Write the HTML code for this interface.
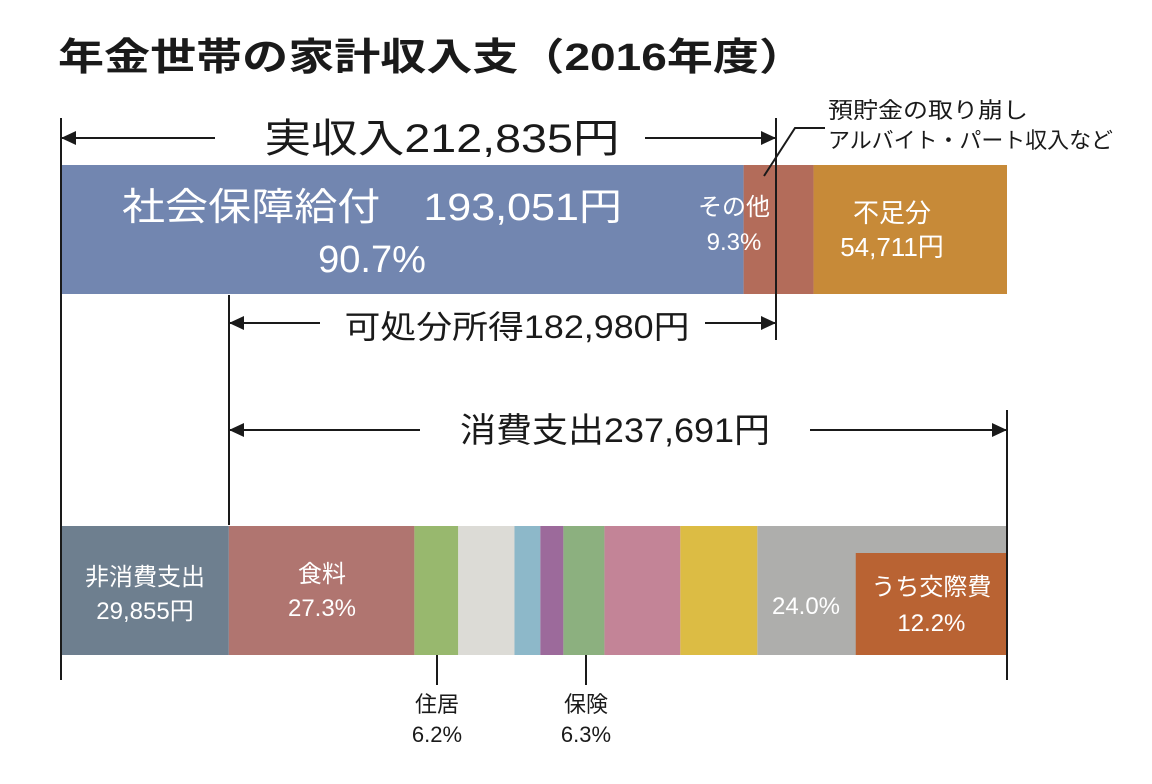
<!DOCTYPE html>
<html><head><meta charset="utf-8"><style>
body{margin:0;background:#fff;}
svg{display:block;font-family:"Liberation Sans","Noto Sans CJK JP",sans-serif;}
</style></head><body>
<svg width="1152" height="784" viewBox="0 0 1152 784">
<text x="58" y="70" font-size="38" font-weight="bold" fill="#1a1a1a" textLength="747" lengthAdjust="spacingAndGlyphs">年金世帯の家計収入支（2016年度）</text>
<g id="top"></g>
<g id="bottom"></g>
<g stroke="#1a1a1a" stroke-width="2">
<line x1="61" y1="118" x2="61" y2="680"/><line x1="776" y1="118" x2="776" y2="340"/>
<line x1="229" y1="295" x2="229" y2="525"/><line x1="1007" y1="410" x2="1007" y2="680"/>
<line x1="61" y1="138" x2="215" y2="138"/><line x1="645" y1="138" x2="776" y2="138"/>
<line x1="229" y1="323" x2="320" y2="323"/><line x1="705" y1="323" x2="776" y2="323"/>
<line x1="229" y1="430" x2="420" y2="430"/><line x1="810" y1="430" x2="1007" y2="430"/>
<polyline points="764,176 795,128 825,128" fill="none"/>
<line x1="437" y1="655" x2="437" y2="685"/><line x1="586" y1="655" x2="586" y2="685"/>
</g>
<g fill="#1a1a1a">
<polygon points="61,138 76,131 76,145"/><polygon points="776,138 761,131 761,145"/>
<polygon points="229,323 244,316 244,330"/><polygon points="776,323 761,316 761,330"/>
<polygon points="229,430 244,423 244,437"/><polygon points="1007,430 992,423 992,437"/>
</g>
<g fill="#1a1a1a" text-anchor="middle">
<text x="442" y="152" font-size="40" textLength="355" lengthAdjust="spacingAndGlyphs">実収入212,835円</text>
<text x="517" y="338" font-size="32" textLength="345" lengthAdjust="spacingAndGlyphs">可処分所得182,980円</text>
<text x="615" y="442" font-size="34" textLength="310" lengthAdjust="spacingAndGlyphs">消費支出237,691円</text>
<text x="437" y="712" font-size="22">住居</text>
<text x="437" y="742" font-size="22">6.2%</text>
<text x="586" y="712" font-size="22">保険</text>
<text x="586" y="742" font-size="22">6.3%</text>
</g>
<g fill="#1a1a1a" font-size="22">
<text x="828" y="118" textLength="200" lengthAdjust="spacingAndGlyphs">預貯金の取り崩し</text>
<text x="828" y="148" textLength="285" lengthAdjust="spacingAndGlyphs">アルバイト・パート収入など</text>
</g>
<g fill="#fff" text-anchor="middle">
<text x="372" y="220" font-size="38" textLength="500" lengthAdjust="spacingAndGlyphs">社会保障給付　193,051円</text>
<text x="372" y="272" font-size="38">90.7%</text>
<text x="734" y="215" font-size="24">その他</text>
<text x="734" y="250" font-size="24">9.3%</text>
<text x="892" y="222" font-size="26">不足分</text>
<text x="892" y="256" font-size="26">54,711円</text>
<text x="145" y="585" font-size="24">非消費支出</text>
<text x="145" y="619" font-size="24">29,855円</text>
<text x="322" y="582" font-size="24">食料</text>
<text x="322" y="616" font-size="24">27.3%</text>
<text x="806" y="614" font-size="24">24.0%</text>
</g>
<g id="social" ></g>
</svg>
<script>
const topCategories = ["社会保障給付", "その他", "不足分"];
const topValues = [193051, 19784, 54711];
const topColors = ["#7286b0", "#b36c5a", "#c78a38"];
const bottomCategories = ["非消費支出","食料","住居","光熱","家具","被服","保険","交通","教養","その他"];
const bottomValues = [29855, 33000, 7800, 10000, 4600, 4100, 7300, 13500, 13700, 44400];
const bottomColors = ["#6e7f8f","#b07570","#98b86e","#dcdbd6","#8db8c9","#9c6a9b","#8cb07f","#c38497","#dcbc44","#aeaeac"];
const socialValue = 26900;
const ns = "http://www.w3.org/2000/svg";
const X0 = 61, X1 = 1007;
function scaleFor(vals){const t=vals.reduce((a,b)=>a+b,0);return v=>v/t*(X1-X0);}
function drawBar(gid, vals, colors, y, h){
  const g=document.getElementById(gid); const s=scaleFor(vals); let x=X0;
  vals.forEach((v,i)=>{const r=document.createElementNS(ns,"rect");
    r.setAttribute("x",x);r.setAttribute("y",y);r.setAttribute("width",s(v));r.setAttribute("height",h);r.setAttribute("fill",colors[i]);
    
    
    g.appendChild(r); x+=s(v);});
  return s;
}
drawBar("top", topValues, topColors, 165, 129);
const sb = drawBar("bottom", bottomValues, bottomColors, 526, 129);
const g=document.getElementById("bottom");
const w=sb(socialValue);
const r=document.createElementNS(ns,"rect");
r.setAttribute("x",X1-w);r.setAttribute("y",553);r.setAttribute("width",w);r.setAttribute("height",102);r.setAttribute("fill","#b96333");


g.appendChild(r);
[["うち交際費",595],["12.2%",631]].forEach(([t,y])=>{const e=document.createElementNS(ns,"text");
  e.setAttribute("x",X1-w/2);e.setAttribute("y",y);e.setAttribute("fill","#fff");e.setAttribute("font-size","24");e.setAttribute("text-anchor","middle");e.textContent=t;
  
  
  g.appendChild(e);});
</script>
</body></html>
